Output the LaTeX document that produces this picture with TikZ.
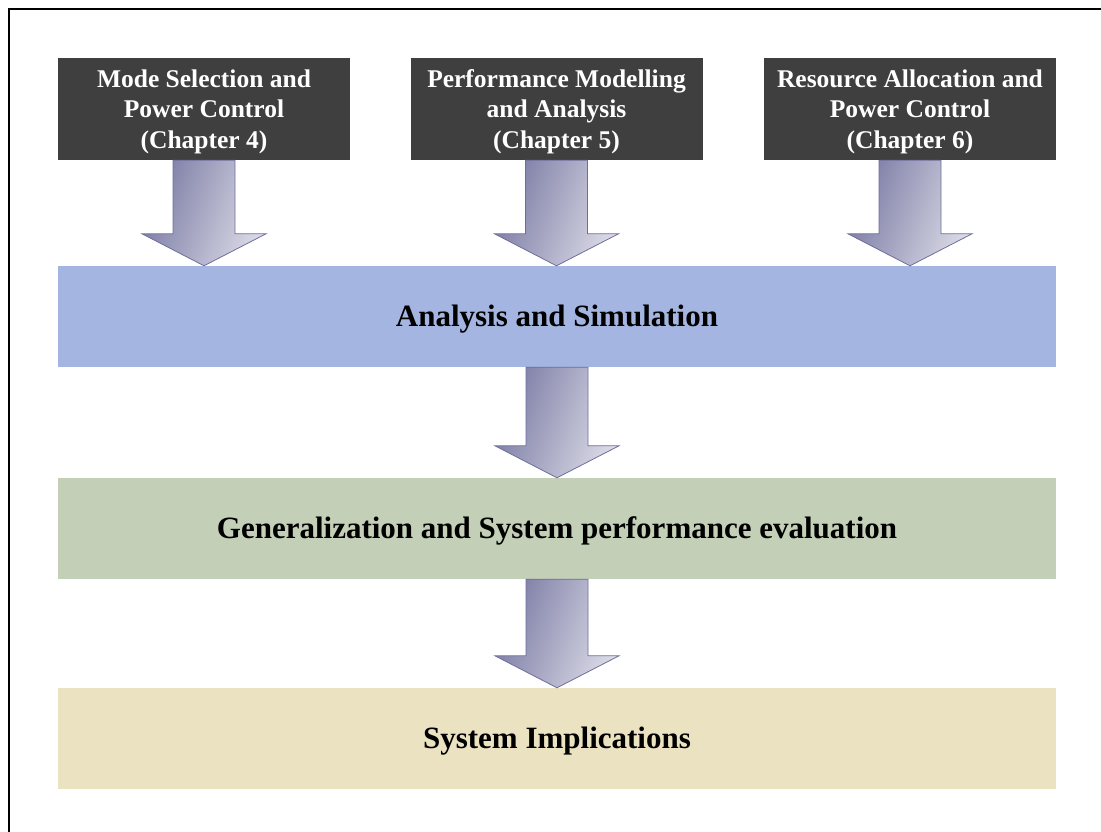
\documentclass[tikz,border=0pt]{standalone}
\usepackage{fontspec}
\setmainfont{Liberation Serif}
\usetikzlibrary{calc}
\definecolor{boxdark}{HTML}{3F3F3F}
\definecolor{bandblue}{HTML}{A3B5E0}
\definecolor{bandgreen}{HTML}{C3CFB6}
\definecolor{bandtan}{HTML}{EAE2C1}
\definecolor{arrdark}{HTML}{7A7AA4}
\definecolor{arrlight}{HTML}{DADAE6}
\definecolor{arredge}{HTML}{6E6E9C}
\newcommand\boxtext[1]{\raisebox{-2.5pt}[\height][\depth]{\begin{tabular}{@{}c@{}}#1\end{tabular}}}
\tikzset{
  topbox/.style={fill=boxdark, text=white, inner sep=0pt, minimum width=292, minimum height=102,
    align=center, font=\fontsize{25.5}{30.5}\selectfont\bfseries},
  band/.style={inner sep=0pt, minimum width=998, minimum height=101, text height=27pt, text depth=6.7pt,
    font=\fontsize{31}{34}\selectfont\bfseries},
  blockarr/.style={draw=arredge, line width=0.8pt, shading=axis, left color=arrdark, right color=arrlight, shading angle=70},
}
\newcommand\blkarrow[2]{%
  \path[blockarr] let \p1=(#1.south), \p2=(#2.north) in
    (\x1-31pt,\y1) -- (\x1+31pt,\y1) -- (\x1+31pt,\y2+32pt) -- (\x1+62pt,\y2+32pt)
    -- (\x1,\y2) -- (\x1-62pt,\y2+32pt) -- (\x1-31pt,\y2+32pt) -- cycle;}
\begin{document}
\begin{tikzpicture}[x=1pt,y=-1pt]
  \useasboundingbox (0,0) rectangle (1101,832);
  \draw[line width=2pt] (8.5,832) -- (8.5,9.5) -- (1101,9.5);
  \node[topbox] (c4) at (204,109) {\boxtext{Mode Selection and\\Power Control\\(Chapter 4)}};
  \node[topbox] (c5) at (556.5,109) {\boxtext{Performance Modelling\\and Analysis\\(Chapter 5)}};
  \node[topbox] (c6) at (910,109) {\boxtext{Resource Allocation and\\Power Control\\(Chapter 6)}};
  \node[band, fill=bandblue] (as) at (557,316.5) {Analysis and Simulation};
  \node[band, fill=bandgreen] (gs) at (557,528.5) {Generalization and System performance evaluation};
  \node[band, fill=bandtan] (si) at (557,738.5) {System Implications};
  \blkarrow{c4}{as}
  \blkarrow{c5}{as}
  \blkarrow{c6}{as}
  \blkarrow{as}{gs}
  \blkarrow{gs}{si}
\end{tikzpicture}
\end{document}
